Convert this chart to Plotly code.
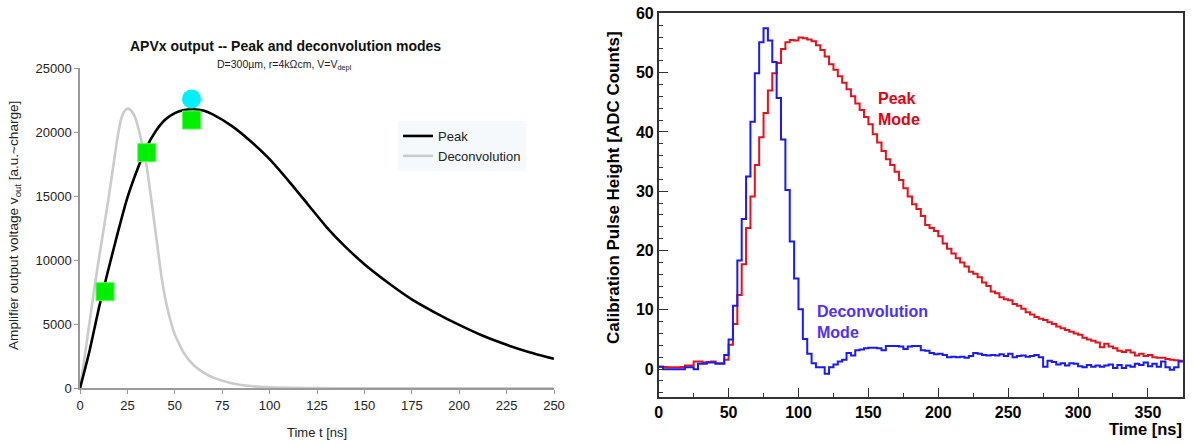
import numpy as np
import plotly.graph_objects as go

W, H = 1194, 445

# ---------------- Left panel data (APVx output) ----------------
peak_t = [0, 5, 10, 15, 20, 25, 30, 35, 40, 45, 50, 55, 60, 65, 70, 80, 90, 100,
          110, 120, 130, 140, 150, 162.5, 175, 187.5, 200, 212.5, 225, 237.5, 250]
peak_v = [0, 2900, 6300, 9300, 12200, 14900, 17000, 18800, 20100, 21000, 21500,
          21750, 21800, 21700, 21400, 20500, 19300, 17900, 16200, 14400, 12600,
          11050, 9700, 8250, 6950, 5900, 4950, 4100, 3400, 2800, 2300]

deco_t = [0, 3, 6, 9, 12, 15, 18, 20, 22, 24, 25.5, 27, 29, 31, 33, 35, 37, 39, 41,
          43, 45, 47, 50, 55, 60, 65, 70, 80, 90, 100, 125, 150, 200, 250]
deco_v = [0, 3000, 6200, 9200, 12000, 14800, 17800, 19800, 21200, 21750, 21850,
          21700, 21200, 20200, 18900, 17500, 15400, 13200, 10900, 8700, 7000, 5700,
          4200, 2700, 1800, 1250, 850, 400, 180, 80, 20, 0, 0, 0]

sq_t = [13.2, 35.2, 58.8]
sq_v = [7550, 18410, 20960]
circ_t = [58.8]
circ_v = [22600]

# ---------------- Right panel data (histograms) ----------------
bin_width = 3.125  # ns
peak_mode = [
    0.4, 0.35, 0.3, 0.3, 0.3, 0.35, 0.6, 0.6, 1.3, 1.3, 1.1, 1.2, 1.3, 1.0, 1.0, 1.6,
    4.1, 7.6, 12.5, 17.7, 23.8, 29.1, 34.4, 39.1, 43.2, 47.0, 49.9, 51.6, 54.0, 55.1,
    55.5, 55.4, 55.9, 55.8, 55.6, 55.3, 54.6, 53.8, 52.7, 51.4, 50.5, 49.4, 48.3, 47.2,
    46.0, 44.8, 43.7, 42.5, 41.3, 39.6, 38.2, 36.8, 35.4, 34.4, 33.3, 31.9,
    30.5, 29.1, 27.8, 27.0, 25.8, 24.3, 23.8, 23.3, 22.4, 21.2, 20.3, 19.5, 18.7, 18.0,
    17.3, 16.4, 16.1, 15.5, 14.6, 14.0, 13.1, 12.8, 12.1, 11.8, 11.6, 11.0, 10.7, 10.2,
    9.6, 9.2, 8.8, 8.5, 8.3, 7.9, 7.6, 7.2, 6.9, 6.6, 6.3, 6.0, 5.8, 5.3, 5.0, 4.8,
    4.5, 3.7, 4.3, 3.8, 3.5, 3.1, 2.9, 3.2, 2.8, 2.3, 2.6, 2.2, 2.4, 2.0, 1.9, 1.9,
    1.7, 1.6, 1.5, 1.4]
deconv_mode = [
    0.4, 0.0, 0.0, 0.0, 0.0, 0.0, 0.3, 0.3, 0.0, 0.9, 0.9, 1.1, 1.1, 0.9, 0.9, 2.4,
    5.0, 10.7, 18.3, 25.3, 32.5, 41.7, 49.9, 55.1, 57.5, 55.4, 51.8, 45.7, 38.7, 30.2,
    21.5, 15.3, 10.1, 5.1, 2.6, 1.0,
    0.3, 0.3, -0.8, 0.3, 0.8, 1.3, 1.6, 2.7, 2.3, 3.2, 3.3, 3.5, 3.6, 3.6, 3.5, 3.2,
    3.9, 3.9, 3.9, 3.8,
    3.4, 3.8, 3.9, 3.9, 3.2, 3.1, 2.7, 2.5, 2.6, 2.4, 2.0, 2.1, 2.0, 2.1, 1.9, 2.2,
    2.7, 2.6, 2.4, 2.3, 2.4, 2.3, 2.5, 2.2, 2.6, 2.0, 2.2, 2.3, 2.1, 2.2, 2.4, 2.0,
    0.4, 1.4, 1.2, 0.8, 1.0, 0.6, 1.0, 0.9, 0.5, 0.3, 0.7, 0.4, 0.6, 0.4, 0.6, 0.8,
    0.2, 0.7, 0.2, 0.6, 0.4, 0.9, 0.7, 1.1, 0.5, 0.9, 0.4, 1.3, 0.3, -0.1, 0.3, 1.3]

x_ticks_left = [0, 25, 50, 75, 100, 125, 150, 175, 200, 225, 250]
y_ticks_left = [0, 5000, 10000, 15000, 20000, 25000]
x_ticks_right = [0, 50, 100, 150, 200, 250, 300, 350]
y_ticks_right = [0, 10, 20, 30, 40, 50, 60]


def fx(p):
    return p / W


def fy(p):
    return 1 - p / H


edges = np.arange(len(peak_mode) + 1) * bin_width


def step_xy(vals):
    return list(edges), list(vals) + [vals[-1]]


FONT = "Liberation Sans, Arial, sans-serif"

fig = go.Figure()

# Left panel traces
fig.add_trace(go.Scatter(x=deco_t, y=deco_v, mode="lines", name="Deconvolution",
                         line=dict(color="#cbcbcb", width=2.6, shape="spline", smoothing=0.5),
                         xaxis="x", yaxis="y"))
fig.add_trace(go.Scatter(x=peak_t, y=peak_v, mode="lines", name="Peak",
                         line=dict(color="black", width=2.6, shape="spline", smoothing=0.5),
                         xaxis="x", yaxis="y"))
fig.add_trace(go.Scatter(x=sq_t, y=sq_v, mode="markers", showlegend=False,
                         marker=dict(symbol="square", size=18, color="#00f000",
                                     line=dict(color="#55ff55", width=1)),
                         xaxis="x", yaxis="y"))
fig.add_trace(go.Scatter(x=circ_t, y=circ_v, mode="markers", showlegend=False,
                         marker=dict(symbol="circle", size=19, color="#00f0ff",
                                     line=dict(width=0)),
                         xaxis="x", yaxis="y"))

# Right panel traces
xs, ys = step_xy(peak_mode)
fig.add_trace(go.Scatter(x=xs, y=ys, mode="lines", showlegend=False,
                         line=dict(color="#e8101a", width=2, shape="hv"),
                         xaxis="x2", yaxis="y2"))
xs, ys = step_xy(deconv_mode)
fig.add_trace(go.Scatter(x=xs, y=ys, mode="lines", showlegend=False,
                         line=dict(color="#1a1aff", width=2, shape="hv"),
                         xaxis="x2", yaxis="y2"))

left_font = dict(family=FONT, size=13, color="#222")
right_font = dict(family=FONT, size=16, color="black", weight="bold")

fig.update_layout(
    template="none",
    width=W, height=H,
    margin=dict(l=0, r=0, t=0, b=0, pad=0),
    paper_bgcolor="white", plot_bgcolor="white",
    showlegend=True,
    legend=dict(x=fx(398), y=fy(121), xanchor="left", yanchor="top",
                bgcolor="#f6f9fb", borderwidth=0,
                font=dict(family=FONT, size=13, color="#222"),
                traceorder="reversed", tracegroupgap=0),
    xaxis=dict(domain=[fx(80), fx(554)], range=[0, 250], anchor="y", automargin=False,
               tickvals=x_ticks_left, ticks="outside", ticklen=4, tickcolor="#999",
               showline=True, linecolor="#9a9a9a", linewidth=1.5, showgrid=False,
               zeroline=False, tickfont=left_font),
    yaxis=dict(domain=[fy(388.3), fy(68.3)], range=[0, 25000], anchor="x", automargin=False,
               tickvals=y_ticks_left, tickformat="d", ticks="outside", ticklen=4,
               tickcolor="#999", showline=True, linecolor="#9a9a9a", linewidth=1.5,
               showgrid=False, zeroline=False, tickfont=left_font),
    xaxis2=dict(domain=[fx(658.7), fx(1183.3)], range=[0, 375.3], anchor="y2",
                automargin=False,
                tickvals=x_ticks_right, ticks="inside", ticklen=10, tickwidth=1.2,
                tickcolor="#333", showline=True, mirror=True, linecolor="#333",
                linewidth=1.5, showgrid=False, zeroline=False, tickfont=right_font,
                minor=dict(ticks="inside", ticklen=5, dtick=25, tick0=0,
                           tickcolor="#333", showgrid=False)),
    yaxis2=dict(domain=[fy(397.3), fy(13.3)], range=[-4.75, 60], anchor="x2",
                automargin=False,
                tickvals=y_ticks_right, ticks="inside", ticklen=10, tickwidth=1.2,
                tickcolor="#333", showline=True, mirror=True, linecolor="#333",
                linewidth=1.5, showgrid=False, zeroline=False, tickfont=right_font,
                minor=dict(ticks="inside", ticklen=5, dtick=2, tick0=0,
                           tickcolor="#333", showgrid=False)),
)

ann = []
# Left title and subtitle
ann.append(dict(text="<b>APVx output -- Peak and deconvolution modes</b>",
                x=fx(285), y=fy(46), xref="paper", yref="paper", showarrow=False,
                xanchor="center", yanchor="middle",
                font=dict(family=FONT, size=14, color="#111")))
ann.append(dict(text="D=300µm, r=4kΩcm, V=V<sub>depl</sub>",
                x=fx(284), y=fy(65), xref="paper", yref="paper", showarrow=False,
                xanchor="center", yanchor="middle",
                font=dict(family=FONT, size=10.5, color="#222")))
ann.append(dict(text="Amplifier output voltage v<sub>out</sub> [a.u.~charge]",
                x=fx(14), y=fy(226), xref="paper", yref="paper", showarrow=False,
                xanchor="center", yanchor="middle", textangle=-90,
                font=dict(family=FONT, size=13.6, color="#222")))
ann.append(dict(text="Time t [ns]", x=fx(317), y=fy(432), xref="paper", yref="paper",
                xanchor="center", yanchor="middle", showarrow=False,
                font=dict(family=FONT, size=13, color="#222")))
# Right panel texts
ann.append(dict(text="<b>Calibration Pulse Height [ADC Counts]</b>",
                x=fx(614), y=fy(188), xref="paper", yref="paper", showarrow=False,
                xanchor="center", yanchor="middle", textangle=-90,
                font=dict(family=FONT, size=17, color="black")))
ann.append(dict(text="<b>Time [ns]</b>", x=fx(1184), y=fy(429), xref="paper",
                yref="paper", xanchor="right", yanchor="middle", showarrow=False,
                font=dict(family=FONT, size=16.5, color="black")))
ann.append(dict(text="<b>Peak<br>Mode</b>", x=fx(876), y=fy(109), xref="paper",
                yref="paper", xanchor="left", yanchor="middle", align="left", showarrow=False,
                font=dict(family=FONT, size=16, color="#e00010")))
ann.append(dict(text="<b>Deconvolution<br>Mode</b>", x=fx(815), y=fy(322), xref="paper",
                yref="paper", xanchor="left", yanchor="middle", align="left", showarrow=False,
                font=dict(family=FONT, size=16, color="#5030ff")))
fig.update_layout(annotations=ann)

fig.write_html("out.html", config={"displayModeBar": False},
               post_script="document.body.style.margin='0';document.body.style.overflow='hidden';")
